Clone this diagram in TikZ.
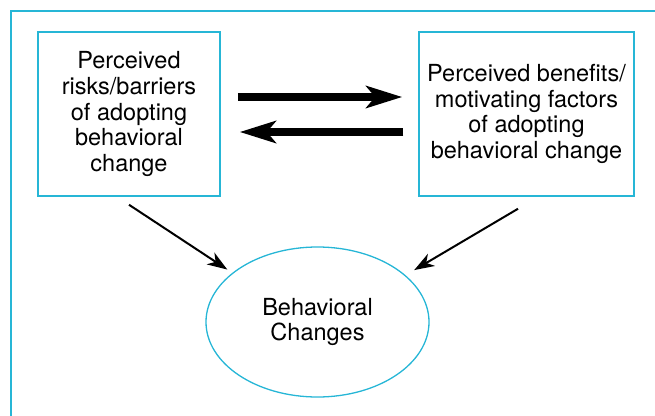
\documentclass[tikz,border=0pt]{standalone}
\usepackage{fontspec}
\setmainfont{TeX Gyre Heros}
\usetikzlibrary{arrows.meta,shapes.geometric}
\definecolor{frameblue}{RGB}{38,182,214}
\tikzset{
  box/.style={draw=frameblue, line width=1.5pt, minimum width=#1, minimum height=164pt, inner sep=0pt, align=center, font=\fontsize{23.5}{25.7}\selectfont},
  oval/.style={draw=frameblue, line width=1.3pt, ellipse, minimum width=223pt, minimum height=150pt, inner sep=0pt, align=center, font=\fontsize{23.5}{25}\selectfont},
  bigarrow/.style={line width=8pt, -{Stealth[length=36pt,width=22pt,inset=9pt]}},
  thinarrow/.style={line width=2pt, -{Stealth[length=20pt,width=14pt,inset=6pt]}}
}
\begin{document}
\begin{tikzpicture}[x=1pt,y=-1pt]
\useasboundingbox (0,0) rectangle (655,415);
\draw[frameblue, line width=1.5pt] (11,416) -- (11,11) -- (656,11);
\node[box=182pt] (L) at (129,114) {Perceived\\risks/barriers\\of adopting\\behavioral\\change};
\node[box=215pt] (R) at (526.5,114) {Perceived benefits/\\motivating factors\\of adopting\\behavioral change};
\node[oval] (E) at (317.5,322) {Behavioral\\Changes};
\draw[bigarrow, shorten <=17pt, shorten >=16pt] ([yshift=17pt]L.east) -- ([yshift=17pt]R.west);
\draw[bigarrow, shorten <=15pt, shorten >=19pt] ([yshift=-18pt]R.west) -- ([yshift=-18pt]L.east);
\draw[thinarrow, shorten >=6pt] ([yshift=-8pt]L.south) -- (E.150);
\draw[thinarrow, shorten >=10pt] ([xshift=-8.5pt,yshift=-12pt]R.south) -- (E.28);
\end{tikzpicture}
\end{document}
